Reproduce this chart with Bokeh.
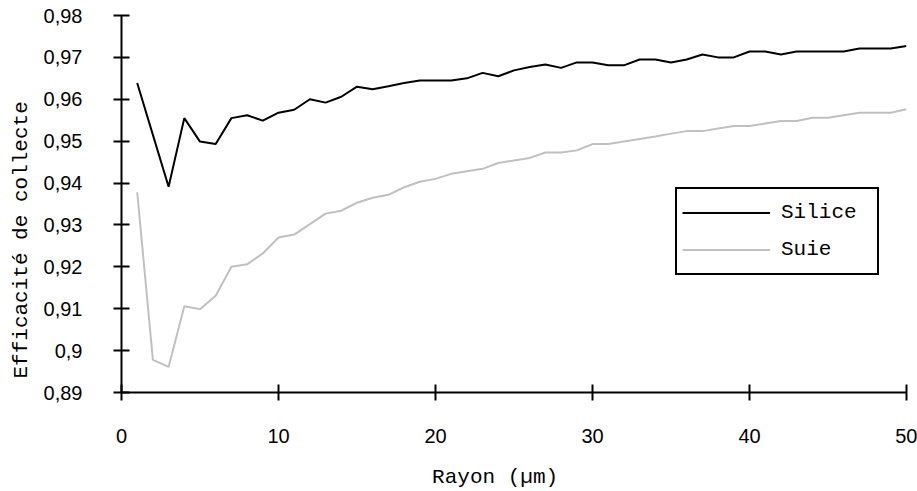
from bokeh.plotting import figure
from bokeh.models import Range1d, FixedTicker, Legend, LegendItem, Title
from bokeh.embed import file_html
from bokeh.resources import INLINE

rayon = list(range(1, 51))
silice = [0.9639, 0.9515, 0.9391, 0.9555, 0.9499, 0.9493, 0.9555, 0.9562, 0.9549, 0.9568,
          0.9575, 0.9600, 0.9592, 0.9606, 0.9630, 0.9624, 0.9631, 0.9639, 0.9645, 0.9645,
          0.9645, 0.9650, 0.9663, 0.9655, 0.9669, 0.9677, 0.9683, 0.9675, 0.9688, 0.9688,
          0.9681, 0.9681, 0.9695, 0.9695, 0.9688, 0.9695, 0.9707, 0.9700, 0.9700, 0.9714,
          0.9714, 0.9707, 0.9714, 0.9714, 0.9714, 0.9714, 0.9721, 0.9721, 0.9721, 0.9727]
suie = [0.9378, 0.8978, 0.8961, 0.9106, 0.9099, 0.9131, 0.9200, 0.9206, 0.9232, 0.9270,
        0.9277, 0.9302, 0.9327, 0.9334, 0.9353, 0.9365, 0.9372, 0.9390, 0.9403, 0.9410,
        0.9422, 0.9428, 0.9434, 0.9448, 0.9454, 0.9460, 0.9473, 0.9473, 0.9478, 0.9493,
        0.9493, 0.9499, 0.9505, 0.9511, 0.9518, 0.9524, 0.9524, 0.9530, 0.9536, 0.9536,
        0.9542, 0.9548, 0.9548, 0.9556, 0.9556, 0.9562, 0.9568, 0.9568, 0.9568, 0.9576]

x_ticks = [0, 10, 20, 30, 40, 50]
y_ticks = [0.89, 0.90, 0.91, 0.92, 0.93, 0.94, 0.95, 0.96, 0.97, 0.98]
y_tick_labels = ["0,89", "0,9", "0,91", "0,92", "0,93", "0,94", "0,95", "0,96", "0,97", "0,98"]
x_title = "Rayon (µm)"
y_title = "Efficacité de collecte"

p = figure(width=917, height=491, output_backend="svg", toolbar_location=None,
           x_range=Range1d(0, 50), y_range=Range1d(0.89, 0.98))
p.min_border_left = 121
p.min_border_top = 15
p.min_border_bottom = 97
p.min_border_right = 11
p.outline_line_color = None
p.xgrid.visible = False
p.ygrid.visible = False
p.background_fill_color = "white"
p.border_fill_color = "white"

r1 = p.line(rayon, silice, line_color="black", line_width=2)
r2 = p.line(rayon, suie, line_color="#c0c0c0", line_width=2)

for ax in (p.xaxis[0], p.yaxis[0]):
    ax.axis_line_width = 2
    ax.axis_line_color = "black"
    ax.major_tick_line_width = 2
    ax.major_tick_line_color = "black"
    ax.major_tick_in = 8
    ax.major_tick_out = 8
    ax.minor_tick_line_color = None
    ax.major_label_text_font = "Liberation Sans"
    ax.major_label_text_font_size = "20px"
    ax.major_label_text_color = "black"

p.xaxis.ticker = FixedTicker(ticks=x_ticks)
p.yaxis.ticker = FixedTicker(ticks=y_ticks)
p.yaxis.major_label_overrides = {t: l for t, l in zip(y_ticks, y_tick_labels)}
p.xaxis.major_label_standoff = 28
p.yaxis.major_label_standoff = 31

# x title: axis label, nudged left of centre by trailing no-break spaces
p.xaxis.axis_label = x_title + "\u00a0\u00a0\u00a0"
p.xaxis.axis_label_standoff = 20
p.xaxis.axis_label_text_font = "Liberation Mono"
p.xaxis.axis_label_text_font_size = "21px"
p.xaxis.axis_label_text_font_style = "normal"
p.xaxis.axis_label_text_color = "black"

# y title (placed below centre as in the reference)
yt = Title(text=y_title, align="left", offset=14, standoff=15,
           text_font="Liberation Mono", text_font_size="21px",
           text_font_style="normal", text_color="black")
p.add_layout(yt, "left")

legend = Legend(items=[LegendItem(label="Silice", renderers=[r1]),
                       LegendItem(label="Suie", renderers=[r2])],
                location=(554, 117))
legend.border_line_color = "black"
legend.border_line_width = 2
legend.border_line_alpha = 1
legend.background_fill_color = "white"
legend.background_fill_alpha = 1
legend.padding = 5
legend.spacing = 0
legend.margin = 0
legend.glyph_width = 88
legend.glyph_height = 37
legend.label_standoff = 11
legend.label_width = 91
legend.label_text_font = "Liberation Mono"
legend.label_text_font_size = "21px"
legend.label_text_color = "black"
p.add_layout(legend, "center")

open("out.html", "w").write(file_html(p, INLINE))
